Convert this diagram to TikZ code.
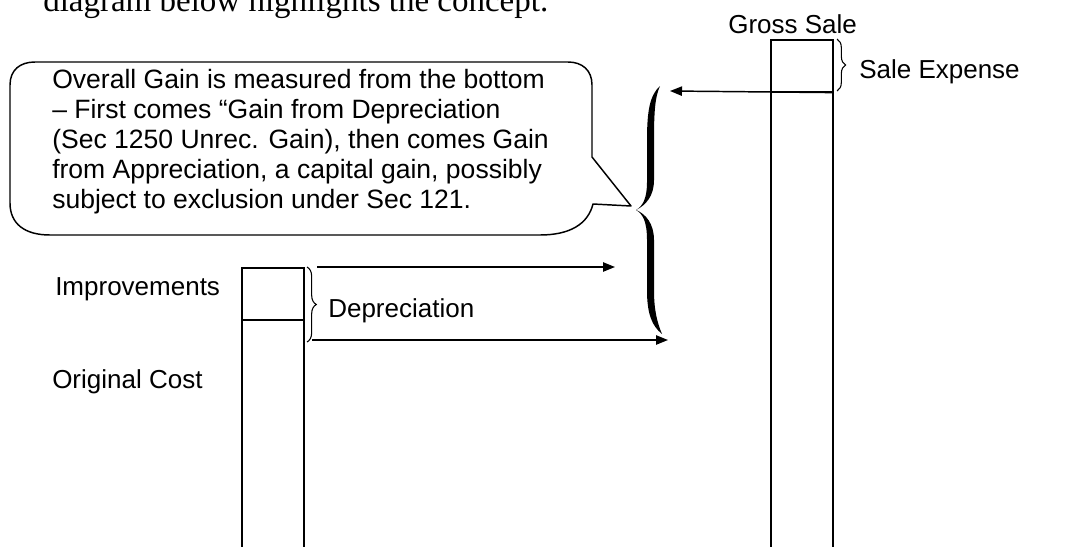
\documentclass[tikz,border=0pt]{standalone}
\usepackage{fontspec}
\setmainfont{Liberation Serif}
\newfontfamily\arialf{Liberation Sans}
\usetikzlibrary{arrows.meta,decorations.pathreplacing}
\begin{document}
\begin{tikzpicture}[x=0.75pt,y=-0.75pt,
  lbl/.style={font=\arialf\fontsize{19.5}{22.5}\selectfont, inner sep=0pt},
  bar/.style={draw, line width=1.2pt, inner sep=0pt, anchor=north west, minimum width=46.5pt},
  arr/.style={line width=1.1pt, -{Triangle[length=9pt,width=7pt]}},
  brc/.style={decorate, line width=0.8pt, decoration={brace, amplitude=#1}},
]
\path[use as bounding box] (0,0) rectangle (1080,546);
\clip (0,0) rectangle (1080,546);
\fill[white] (0,0) rectangle (1080,546);

% cut-off line of text at the top
\node[font=\fontsize{24.75}{28}\selectfont, anchor=base west, inner sep=0pt] (intro) at (43,12) {diagram below highlights the concept.};

% callout
\draw[line width=1.1pt, line join=round]
  (35,62) -- (568,62) .. controls (582,62) and (592,70) .. (592,85)
  -- (592,157) -- (631,206) -- (593,204)
  .. controls (588,224) and (570,235) .. (540,235)
  -- (50,235) .. controls (25,235) and (10,224) .. (10,203)
  -- (10,85) .. controls (10,70) and (20,62) .. (35,62) -- cycle;
\node[lbl, font=\arialf\fontsize{19.9}{22.5}\selectfont, anchor=north west, align=left] (note) at (52,67)
  {\strut Overall Gain is measured from the bottom\\
   – First comes “Gain from Depreciation\\
   (Sec 1250 Unrec. Gain), then comes Gain\\
   from Appreciation, a capital gain, possibly\\
   subject to exclusion under Sec 121.};

% bars
\node[bar, minimum height=39pt] (imp) at (241,267) {};
\node[bar, minimum height=195pt] (orig) at (241,319) {};
\node[bar, minimum height=39pt] (sale) at (770,39) {};
\node[bar, minimum height=352.5pt] (gross) at (770,91) {};

% labels
\node[lbl, anchor=base west] (impl) at (55,295) {Improvements};
\node[lbl, anchor=base west] (origl) at (52,388) {Original Cost};
\node[lbl, anchor=base west] (depl) at (328,317) {Depreciation};
\node[lbl, anchor=base west] (grossl) at (728,33) {Gross Sale};
\node[lbl, anchor=base west] (salel) at (859,78) {Sale Expense};

% small braces
\draw[brc=7pt] (307,267) -- (307,342);
\draw[brc=6.5pt] (837,39) -- (837,91);

% big brace
\fill (660,86) .. controls (650,95) and (647,110) .. (647,140) -- (647,182)
  .. controls (647,198) and (643,206) .. (636,210)
  .. controls (646,205) and (654,196) .. (654,180) -- (654,140)
  .. controls (654,112) and (655,97) .. (660,86) -- cycle;
\fill (636,210) .. controls (643,214) and (647,222) .. (647,240) -- (647,290)
  .. controls (647,314) and (652,326) .. (662,334)
  .. controls (657,322) and (654,310) .. (654,290) -- (654,240)
  .. controls (654,224) and (646,214) .. (636,210) -- cycle;

% arrows
\coordinate (s1) at (317,267);
\coordinate (t1) at (615,267);
\coordinate (s2) at (312,340);
\coordinate (t2) at (668,340);
\coordinate (t3) at (670,91);
\draw[arr] (s1) -- (t1);
\draw[arr] (s2) -- (t2);
\draw[arr] (sale.south east) -- (t3);
\end{tikzpicture}
\end{document}
